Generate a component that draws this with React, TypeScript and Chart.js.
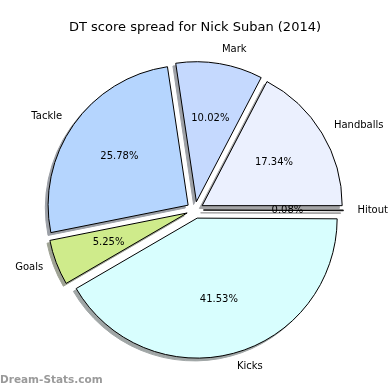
import React, { useEffect, useRef } from "react";
import { Chart, registerables } from "chart.js";

Chart.register(...registerables);

// Drawing order (Chart.js goes clockwise from the start angle)
const categories = ["Hitout", "Kicks", "Goals", "Tackle", "Mark", "Handballs"];
const percentages = [0.08, 41.53, 5.25, 25.78, 10.02, 17.34];
const sliceColors = ["#F4F4F4", "#D8FEFE", "#CFEB8B", "#B5D5FE", "#C5D9FE", "#EBF0FE"];
const titleText = "DT score spread for Nick Suban (2014)";
const watermarkText = "Dream-Stats.com";

const EXPLODE = 8.4;
const SHADOW_DX = -2.8;
const SHADOW_DY = 2.8;
const FONT = "'DejaVu Sans', sans-serif";

function shadowOf(hex: string): string {
  const n = parseInt(hex.slice(1), 16);
  const r = (n >> 16) & 255, g = (n >> 8) & 255, b = n & 255;
  const f = (c: number) => Math.round(255 * 0.5 + 0.3 * c * 0.5);
  return `rgb(${f(r)},${f(g)},${f(b)})`;
}

const explodePlugin = {
  id: "explodeShadow",
  beforeDatasetsDraw(chart: any) {
    const ctx = chart.ctx;
    const meta = chart.getDatasetMeta(0);
    meta.data.forEach((arc: any, i: number) => {
      const mid = (arc.startAngle + arc.endAngle) / 2;
      const s = Object.create(arc);
      const c = shadowOf(sliceColors[i]);
      s.options = { ...arc.options, backgroundColor: c, borderColor: c };
      ctx.save();
      ctx.translate(Math.cos(mid) * EXPLODE + SHADOW_DX, Math.sin(mid) * EXPLODE + SHADOW_DY);
      s.draw(ctx);
      ctx.restore();
    });
    meta.data.forEach((arc: any) => {
      const mid = (arc.startAngle + arc.endAngle) / 2;
      ctx.save();
      ctx.translate(Math.cos(mid) * EXPLODE, Math.sin(mid) * EXPLODE);
      arc.draw(ctx);
      ctx.restore();
    });
    return false;
  },
  afterDraw(chart: any) {
    const ctx = chart.ctx;
    const meta = chart.getDatasetMeta(0);
    ctx.save();
    ctx.fillStyle = "#000";
    ctx.font = `10px ${FONT}`;
    meta.data.forEach((arc: any, i: number) => {
      const mid = (arc.startAngle + arc.endAngle) / 2;
      const cx = arc.x + Math.cos(mid) * EXPLODE;
      const cy = arc.y + Math.sin(mid) * EXPLODE;
      const r = arc.outerRadius;
      ctx.textBaseline = "middle";
      ctx.textAlign = "center";
      ctx.fillText(percentages[i].toFixed(2) + "%", cx + Math.cos(mid) * r * 0.6, cy + Math.sin(mid) * r * 0.6);
      const lx = cx + Math.cos(mid) * r * 1.1;
      const ly = cy + Math.sin(mid) * r * 1.1;
      ctx.textAlign = Math.cos(mid) > 0 ? "left" : "right";
      ctx.fillText(categories[i], lx, ly);
    });
    ctx.fillStyle = "#9a9a9a";
    ctx.font = `bold 10.5px ${FONT}`;
    ctx.textAlign = "left";
    ctx.textBaseline = "middle";
    ctx.fillText(watermarkText, 0, 380);
    ctx.restore();
  },
};

export default function App() {
  const ref = useRef<HTMLCanvasElement>(null);
  useEffect(() => {
    document.body.style.margin = "0";
    const chart = new Chart(ref.current as HTMLCanvasElement, {
      type: "pie",
      data: {
        labels: categories,
        datasets: [
          {
            data: percentages,
            backgroundColor: sliceColors,
            borderColor: "#000",
            borderWidth: 1,
          },
        ],
      },
      options: {
        responsive: false,
        animation: false,
        events: [],
        rotation: 90,
        layout: { padding: { left: 54.5, right: 54.5, top: 0, bottom: 39.5 } },
        plugins: {
          legend: { display: false },
          tooltip: { enabled: false },
          title: {
            display: true,
            text: titleText,
            color: "#000",
            font: { family: FONT, size: 13, weight: "normal" },
            padding: { top: 19.5, bottom: 34.4 },
          },
        },
      },
      plugins: [explodePlugin],
    });
    return () => chart.destroy();
  }, []);
  return (
    <div style={{ width: 390, height: 390, background: "#fff" }}>
      <canvas ref={ref} width={390} height={390} style={{ display: "block" }} />
    </div>
  );
}
